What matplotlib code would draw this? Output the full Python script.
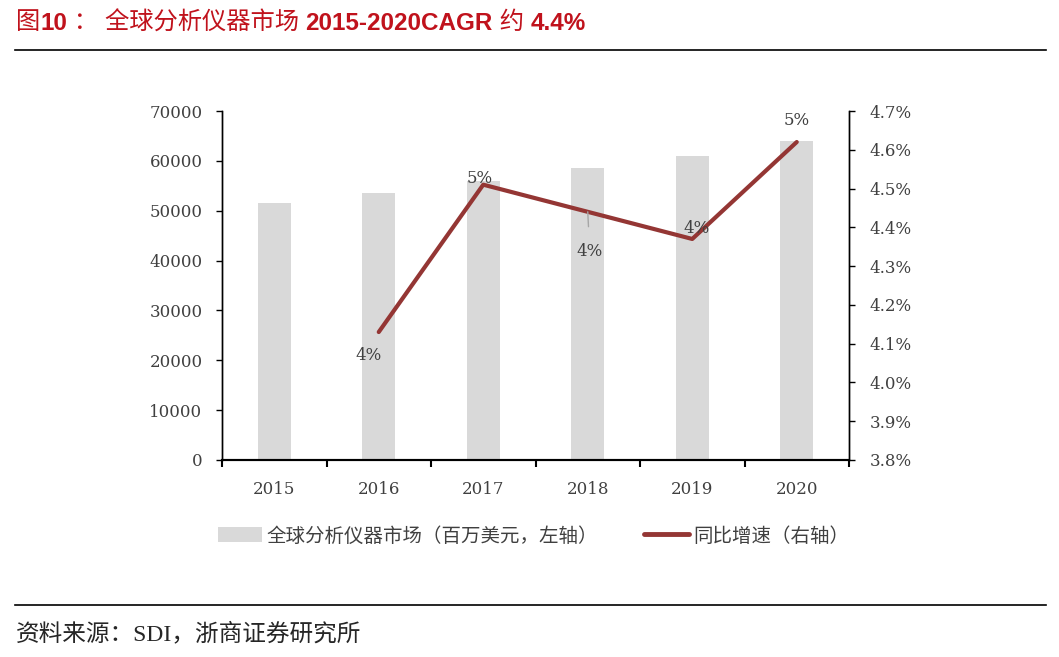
import numpy as np
import matplotlib.pyplot as plt
from matplotlib.lines import Line2D
from matplotlib.patches import Patch

plt.rcParams['font.family'] = ['DejaVu Serif', 'Noto Sans CJK SC']
plt.rcParams['axes.unicode_minus'] = False

# 数据
years = ['2015', '2016', '2017', '2018', '2019', '2020']
market = [51500, 53600, 56000, 58500, 61000, 63900]       # 百万美元
growth = [np.nan, 4.13, 4.51, 4.44, 4.37, 4.62]            # %
growth_labels = ['', '4%', '5%', '4%', '4%', '5%']
left_ticks = [0, 10000, 20000, 30000, 40000, 50000, 60000, 70000]
right_ticks = [3.8, 3.9, 4.0, 4.1, 4.2, 4.3, 4.4, 4.5, 4.6, 4.7]

bar_color = '#D9D9D9'
line_color = '#943634'
text_color = '#404040'
title_color = '#C0121C'

fig = plt.figure(figsize=(10.59, 6.57), dpi=100)
ax = fig.add_axes([222 / 1059, 1 - 460 / 657, 627 / 1059, 349 / 657])
ax2 = ax.twinx()

x = np.arange(len(years))
ax.bar(x, market, width=0.32, color=bar_color, zorder=1)
ax.set_xlim(-0.5, len(years) - 0.5)
ax.set_ylim(0, 70000)
ax.set_yticks(left_ticks)
ax.set_yticklabels([str(v) for v in left_ticks])
ax.set_xticks(x)
ax.set_xticklabels(years)
ax.set_xticks(np.arange(len(years) + 1) - 0.5, minor=True)
ax.tick_params(axis='x', which='major', length=0, pad=15, labelsize=12, labelcolor=text_color)
ax.tick_params(axis='x', which='minor', length=5, width=1.5, direction='out')
ax.tick_params(axis='y', length=4, width=1, pad=10, labelsize=12, labelcolor=text_color)

ax2.plot(x, growth, color=line_color, lw=3, solid_capstyle='round', solid_joinstyle='round', zorder=3)
ax2.set_ylim(3.8, 4.7)
ax2.set_yticks(right_ticks)
ax2.set_yticklabels(['%.1f%%' % v for v in right_ticks])
ax2.tick_params(axis='y', length=4, width=1, pad=11, labelsize=12, labelcolor=text_color)

for a in (ax, ax2):
    a.spines['top'].set_visible(False)
    a.spines['bottom'].set_linewidth(1.5)
    a.spines['left'].set_linewidth(1)
    a.spines['right'].set_linewidth(1)

# 数据标签（像素偏移）
offsets = [(0, 0), (-10, -23), (-4, 6), (2, -40), (4, 10), (0, 22)]
for i, lab in enumerate(growth_labels):
    if not lab:
        continue
    if i == 3:
        ax2.annotate(lab, (x[i], growth[i]), xytext=offsets[i], textcoords='offset pixels',
                     ha='center', va='center', fontsize=12, color=text_color,
                     arrowprops=dict(arrowstyle='-', color='#A6A6A6', lw=1, shrinkA=10, shrinkB=0))
    else:
        ax2.annotate(lab, (x[i], growth[i]), xytext=offsets[i], textcoords='offset pixels',
                     ha='center', va='center', fontsize=12, color=text_color)

# 图例
handles = [Patch(facecolor=bar_color, edgecolor='none'),
           Line2D([0], [0], color=line_color, lw=3.5, solid_capstyle='round')]
labels = ['全球分析仪器市场（百万美元，左轴）', '同比增速（右轴）']
fig.legend(handles, labels, loc='center left', bbox_to_anchor=(200 / 1059, 1 - 536 / 657),
           ncol=2, frameon=False, handlelength=2.3, handleheight=0.8, handletextpad=0.2,
           columnspacing=2.4, prop={'family': ['Noto Sans CJK SC'], 'size': 14},
           labelcolor=text_color)

# 标题：中文常规，数字英文加粗，逐段拼接
title_parts = [('图', 'normal'), ('10', 'bold'), (' ： ', 'normal'), ('全球分析仪器市场 ', 'normal'),
               ('2015-2020CAGR', 'bold'), (' 约 ', 'normal'), ('4.4%', 'bold')]
renderer = fig.canvas.get_renderer()
tx = 16
for s, w in title_parts:
    t = fig.text(tx / 1059, 1 - 23 / 657, s, ha='left', va='center', fontsize=17.5, fontweight=w,
                 color=title_color, family=['Liberation Sans', 'Noto Sans CJK SC'])
    bb = t.get_window_extent(renderer=renderer)
    tx += bb.width

fig.add_artist(Line2D([15 / 1059, 1046 / 1059], [1 - 50 / 657, 1 - 50 / 657],
                      color='black', lw=1.2, transform=fig.transFigure))
fig.add_artist(Line2D([15 / 1059, 1046 / 1059], [1 - 605 / 657, 1 - 605 / 657],
                      color='black', lw=1.2, transform=fig.transFigure))
fig.text(16 / 1059, 1 - 634 / 657, '资料来源：SDI，浙商证券研究所', ha='left', va='center',
         fontsize=17, color='#262626', family=['Liberation Serif', 'Noto Sans CJK SC'])

fig.savefig('out.png', dpi=100)
